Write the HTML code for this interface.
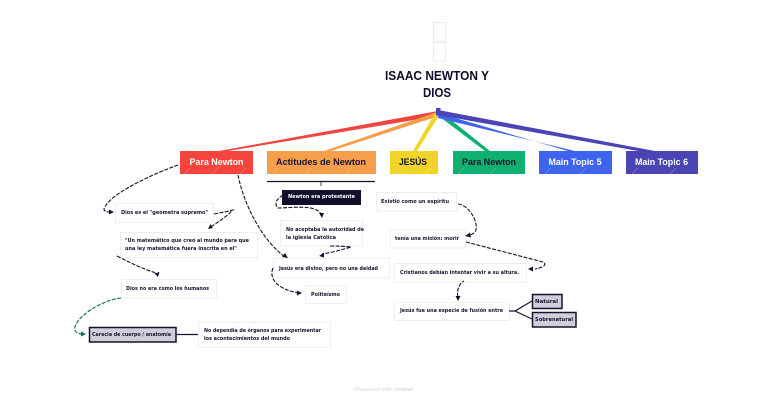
<!DOCTYPE html>
<html><head><meta charset="utf-8"><style>
html,body{margin:0;padding:0;background:#fff;width:768px;height:400px;overflow:hidden}
svg{display:block}
text{font-family:"DejaVu Sans","Liberation Sans",sans-serif}
.n{fill:#fff;stroke:#eeeef2;stroke-width:1}
.t{font-size:5.6px;fill:#14142e;font-weight:bold}
.h{font-size:9px;font-weight:bold;font-family:"Liberation Sans",sans-serif}
.d{fill:none;stroke:#14142e;stroke-width:1.1;stroke-dasharray:4 1.4}
.a{fill:#14142e}
.b{fill:#cfcfdc;stroke:#14142e;stroke-width:1.5}
</style></head><body>
<svg width="768" height="400" viewBox="0 0 768 400" xmlns="http://www.w3.org/2000/svg">
<rect x="433.500" y="22.500" width="12" height="18.500" fill="#fff" stroke="#ececf0"/>
<rect x="433.500" y="42.500" width="12" height="18.500" fill="#fff" stroke="#ececf0"/>
<text x="385" y="80" font-size="12.500" font-weight="bold" fill="#0e0e2c" textLength="104" lengthAdjust="spacingAndGlyphs" style="font-family:'Liberation Sans',sans-serif">ISAAC NEWTON Y</text>
<text x="423" y="97" font-size="12.500" font-weight="bold" fill="#0e0e2c" textLength="28" lengthAdjust="spacingAndGlyphs" style="font-family:'Liberation Sans',sans-serif">DIOS</text>

<polygon points="438,111 438,116 228,151 219,151" fill="#f0443e"/>
<polygon points="437,112 439,116 331,151 324,151" fill="#f59e4c"/>
<polygon points="435,113 440,114 417,151 413,151" fill="#f0d428"/>
<polygon points="436,114 441,112 490,151 485,151" fill="#10b070"/>
<polygon points="438,113 438,118 575,151 568,151" fill="#3e63ee"/>
<polygon points="438,110 438,115 644,152 660,152" fill="#4a44b4"/>
<rect x="436" y="108" width="4.500" height="7.500" fill="#4a44b4"/>

<rect x="180" y="151" width="73" height="23" fill="#f5433e"/>
<rect x="267" y="151" width="109" height="23" fill="#f59e4c"/>
<rect x="390" y="151" width="48" height="23" fill="#f0d428"/>
<rect x="453" y="151" width="72" height="23" fill="#10b070"/>
<rect x="539" y="151" width="73" height="23" fill="#3e63ee"/>
<rect x="626" y="151" width="72" height="23" fill="#4a44b4"/>
<g stroke="#fff" stroke-opacity=".3" stroke-width=".7">
<path d="M184 174l6-6M212 174l7-7M240 174l6-6M272 174l6-6M305 174l6-6M345 174l7-7M395 174l6-6M425 174l6-6M458 174l6-6M490 174l6-6M545 174l6-6M580 174l6-6M632 174l6-6M670 174l6-6"/>
</g>
<text class="h" x="189.500" y="165" fill="#fff" textLength="54" lengthAdjust="spacingAndGlyphs">Para Newton</text>
<text class="h" x="276" y="165" fill="#15152e" textLength="90" lengthAdjust="spacingAndGlyphs">Actitudes de Newton</text>
<text class="h" x="399" y="165" fill="#15152e" textLength="28" lengthAdjust="spacingAndGlyphs">JESÚS</text>
<text class="h" x="462" y="165" fill="#15152e" textLength="54" lengthAdjust="spacingAndGlyphs">Para Newton</text>
<text class="h" x="548.500" y="165" fill="#fff" textLength="53" lengthAdjust="spacingAndGlyphs">Main Topic 5</text>
<text class="h" x="635" y="165" fill="#fff" textLength="53" lengthAdjust="spacingAndGlyphs">Main Topic 6</text>

<path d="M267 181.500H375" stroke="#14142e" stroke-width="1.200" fill="none"/>
<path d="M321 181V186" stroke="#14142e" stroke-width=".8" fill="none"/>

<rect class="n" x="115.500" y="203.500" width="98" height="19"/>
<rect class="n" x="120.500" y="232.500" width="137" height="25"/>
<rect class="n" x="121.500" y="279.500" width="95" height="18.500"/>
<rect class="n" x="198.500" y="322.500" width="132" height="25"/>
<rect class="n" x="305.500" y="285.500" width="41" height="18"/>
<rect class="n" x="280.500" y="220.500" width="82" height="25.500"/>
<rect class="n" x="273.500" y="258.500" width="116" height="19.500"/>
<rect class="n" x="376.500" y="192.500" width="80" height="18.500"/>
<rect class="n" x="390.500" y="229.500" width="75" height="18.500"/>
<rect class="n" x="394.500" y="263.500" width="132" height="18.500"/>
<rect class="n" x="394.500" y="302.500" width="115" height="18"/>

<rect x="282" y="190" width="79" height="15" fill="#10102c"/>
<rect class="b" x="89.500" y="327.500" width="86.500" height="14.500"/>
<rect class="b" x="532.500" y="294.500" width="29.500" height="14"/>
<rect class="b" x="532.500" y="312.500" width="43.500" height="14.500"/>
<path d="M176 334.500H198" stroke="#14142e" stroke-width="1.200" fill="none"/>
<path d="M509 311H515L532 301M515 311L532 319" stroke="#14142e" stroke-width="1.200" fill="none"/>

<text class="t" x="121" y="214" textLength="87" lengthAdjust="spacingAndGlyphs">Dios es el "geómetra supremo"</text>
<text class="t" x="125" y="242" textLength="124" lengthAdjust="spacingAndGlyphs">"Un matemático que creó al mundo para que</text>
<text class="t" x="125" y="250" textLength="112" lengthAdjust="spacingAndGlyphs">una ley matemática fuera inscrita en el"</text>
<text class="t" x="126" y="290" textLength="83" lengthAdjust="spacingAndGlyphs">Dios no era como los humanos</text>
<text class="t" x="92" y="336" textLength="79" lengthAdjust="spacingAndGlyphs">Carecia de cuerpo / anatomía</text>
<text class="t" x="204" y="332" textLength="117" lengthAdjust="spacingAndGlyphs">No dependía de órganos para experimentar</text>
<text class="t" x="204" y="340" textLength="86" lengthAdjust="spacingAndGlyphs">los acontecimientos del mundo</text>
<text class="t" x="311" y="296" textLength="29" lengthAdjust="spacingAndGlyphs">Politeísmo</text>
<text class="t" x="288" y="198" style="fill:#fff" textLength="67" lengthAdjust="spacingAndGlyphs">Newton era protestante</text>
<text class="t" x="286" y="231" textLength="78" lengthAdjust="spacingAndGlyphs">No aceptaba la autoridad de</text>
<text class="t" x="286" y="239" textLength="50" lengthAdjust="spacingAndGlyphs">la iglesia Católica</text>
<text class="t" x="279" y="270" textLength="99" lengthAdjust="spacingAndGlyphs">Jesús era divino, pero no una deidad</text>
<text class="t" x="381" y="203" textLength="68" lengthAdjust="spacingAndGlyphs">Existió como un espíritu</text>
<text class="t" x="395" y="240" textLength="64" lengthAdjust="spacingAndGlyphs">tenía una misión: morir</text>
<text class="t" x="400" y="274" textLength="119" lengthAdjust="spacingAndGlyphs">Cristianos debían intentar vivir a su altura.</text>
<text class="t" x="400" y="312" textLength="103" lengthAdjust="spacingAndGlyphs">Jesús fue una especie de fusión entre</text>
<text class="t" x="535" y="303" textLength="23" lengthAdjust="spacingAndGlyphs">Natural</text>
<text class="t" x="535" y="321" textLength="38" lengthAdjust="spacingAndGlyphs">Sobrenatural</text>

<path class="d" d="M178 165C150 175 108 195 104 209Q104 212 110 212"/>
<path class="a" d="M114 212l-5-2.500v5z"/>
<path class="d" d="M214 214Q225 212 233 210Q225 218 212 226"/>
<path class="a" d="M208 229l5-1-2.500-4z"/>
<path class="d" d="M117 256Q140 268 156 273"/>
<path class="a" d="M158 277l1.500-5-5 1.500z"/>
<path class="d" d="M238 175C244 205 262 240 285 257"/>
<path class="a" d="M288 258l-3-5-3 4z"/>
<path class="d" d="M273 268C268 280 280 290 299 293"/>
<path class="a" d="M302 293l-5-2.500v5z"/>
<path class="d" d="M283 195Q272 202 278 208C290 208 316 204 321 214"/>
<path class="a" d="M322 218l-3-5h5z"/>
<path class="d" d="M330 246Q342 246 351 247Q335 252 322 254"/>
<path class="a" d="M319 256l5-3.500v5z"/>
<path d="M121 298C100 300 72 320 75 330Q76 334 83 334" fill="none" stroke="#0f6a5a" stroke-width="1.100" stroke-dasharray="4 1.400"/>
<path d="M86 334l-5-2.500v5z" fill="#0f6a5a"/>
<path class="d" d="M458 204C470 205 480 225 475 232Q472 235 468 235"/>
<path class="a" d="M465 236l5-3.500 1 5z"/>
<path class="d" d="M466 242L543 262Q549 266 535 269"/>
<path class="a" d="M528 269l5-2.500v5z"/>
<path class="d" d="M458 297C456 290 460 283 464 281"/>
<path class="a" d="M458 301l-2.500-5h5z"/>

<text x="355" y="391" font-size="5.500" fill="#d6d6dc" textLength="58" lengthAdjust="spacingAndGlyphs" style="font-family:'Liberation Sans',sans-serif">Powered with <tspan font-weight="bold">xmind</tspan></text>
</svg>
</body></html>
